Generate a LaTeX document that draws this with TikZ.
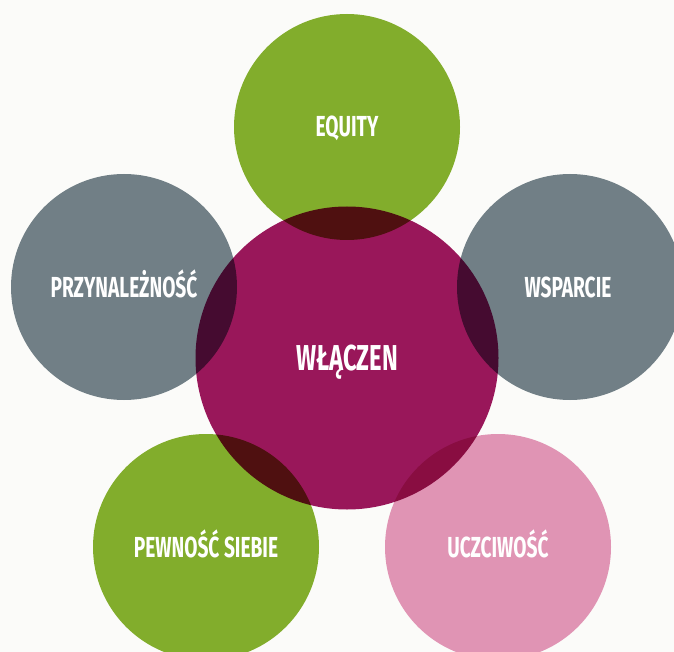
\documentclass[tikz,border=0pt]{standalone}
\usepackage{fontspec}
\newfontfamily\bubblefont[FakeStretch=0.66]{Fira Sans}
\definecolor{bgcolor}{RGB}{251,251,249}
\definecolor{leafgreen}{RGB}{130,173,44}
\definecolor{stonegray}{RGB}{113,127,134}
\definecolor{berry}{RGB}{156,24,93}
\definecolor{rosepink}{RGB}{224,148,180}
\tikzset{
  bubble/.style={circle, minimum size=226pt, inner sep=0pt},
  bubbletext/.style={text=white, inner sep=0pt, text height=20pt, text depth=0pt,
    font=\bubblefont\bfseries\fontsize{29}{31}\selectfont},
  hubtext/.style={text=white, inner sep=0pt, text height=25pt, text depth=0pt,
    font=\bubblefont\bfseries\fontsize{36}{38}\selectfont}
}
\begin{document}
\begin{tikzpicture}[x=1pt,y=-1pt]
            % Background and frame
            \fill[bgcolor] (0,0) rectangle (674,652);
            \clip (0,0) rectangle (674,652);

            % Draw the outer circles
            \node[bubble, fill=leafgreen] (equity) at (347,127) {};
            \node[bubble, fill=stonegray] (belonging) at (124,287) {};
            \node[bubble, fill=stonegray] (support) at (570,287) {};
            \node[bubble, fill=leafgreen] (confidence) at (206,547) {};
            \node[bubble, fill=rosepink] (honesty) at (498,547) {};

            % Draw the centre circle over them
            \begin{scope}[blend mode=multiply]
                \node[bubble, minimum size=303pt, fill=berry] (inclusion) at (347,358) {};
            \end{scope}

            % Put the labels
            \node[bubbletext] (equitytext) at (equity) {EQUITY};
            \node[bubbletext] (belongingtext) at (belonging) {PRZYNALEŻNOŚĆ};
            \node[bubbletext] (supporttext) at (support.center) [xshift=-2pt] {WSPARCIE};
            \node[bubbletext] (confidencetext) at (confidence) {PEWNOŚĆ SIEBIE};
            \node[bubbletext] (honestytext) at (honesty) {UCZCIWOŚĆ};
            \node[hubtext] (inclusiontext) at (inclusion) {WŁĄCZEN};
        \end{tikzpicture}
\end{document}
